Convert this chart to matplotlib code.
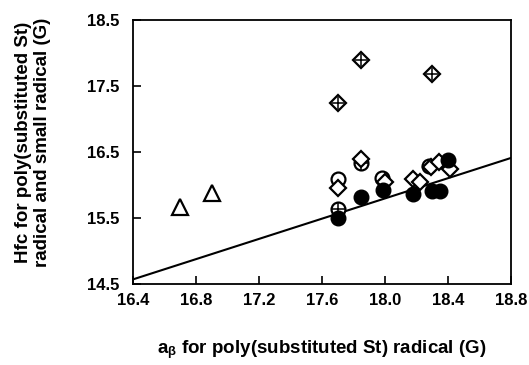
import matplotlib
matplotlib.use("Agg")
import matplotlib.pyplot as plt

# ---- data ----
tri_x = [16.70, 16.90]
tri_y = [15.67, 15.88]

cdiam_x = [17.70, 17.85, 18.30]
cdiam_y = [17.25, 17.89, 17.68]

ocirc_x = [17.70, 17.98, 18.28]
ocirc_y = [16.09, 16.11, 16.29]

diam_x = [17.70, 17.85, 18.00, 18.18, 18.22, 18.29, 18.34, 18.41]
diam_y = [15.95, 16.40, 16.05, 16.09, 16.04, 16.28, 16.35, 16.25]

ccirc_x = [17.70, 17.85]
ccirc_y = [15.63, 16.33]

fcirc_x = [17.70, 17.85, 17.99, 18.18, 18.30, 18.35, 18.40]
fcirc_y = [15.50, 15.82, 15.93, 15.87, 15.91, 15.91, 16.38]

line_x = [16.4, 18.8]
line_y = [14.57, 16.41]

xticks = [16.4, 16.8, 17.2, 17.6, 18.0, 18.4, 18.8]
yticks = [14.5, 15.5, 16.5, 17.5, 18.5]

plt.rcParams['font.family'] = ['Liberation Sans', 'DejaVu Sans']
plt.rcParams['mathtext.fontset'] = 'custom'
plt.rcParams['mathtext.rm'] = 'Liberation Serif'
plt.rcParams['mathtext.it'] = 'Liberation Serif:italic'

fig = plt.figure(figsize=(5.29, 3.65), dpi=100)
ax = fig.add_axes([133/529, 1-284/365, (511-133)/529, (284-20)/365])

ax.plot(line_x, line_y, color='black', lw=1.5, zorder=2)

ms = 10
mew = 1.6
ax.plot(tri_x, tri_y, linestyle='none', marker='^', ms=ms+1, mfc='white', mec='black', mew=mew, zorder=3)
ax.plot(cdiam_x, cdiam_y, linestyle='none', marker='D', ms=ms-2, mfc='white', mec='black', mew=mew, zorder=3)
ax.plot(cdiam_x, cdiam_y, linestyle='none', marker='+', ms=ms-1, mec='black', mew=1.1, zorder=3.1)
ax.plot(ocirc_x, ocirc_y, linestyle='none', marker='o', ms=ms, mfc='white', mec='black', mew=mew, zorder=3)
ax.plot(diam_x, diam_y, linestyle='none', marker='D', ms=ms-2, mfc='white', mec='black', mew=mew, zorder=3.5)
ax.plot(ccirc_x, ccirc_y, linestyle='none', marker='o', ms=ms, mfc='white', mec='black', mew=mew, zorder=3.2)
ax.plot(ccirc_x, ccirc_y, linestyle='none', marker='+', ms=ms, mec='black', mew=1.1, zorder=3.3)
ax.plot(fcirc_x, fcirc_y, linestyle='none', marker='o', ms=ms+0.5, mfc='black', mec='black', mew=1, zorder=4)

ax.set_xlim(16.4, 18.8)
ax.set_ylim(14.5, 18.5)
ax.set_xticks(xticks)
ax.set_yticks(yticks)
ax.set_xticklabels([f"{v:.1f}" for v in xticks], fontweight='bold', fontsize=12)
ax.set_yticklabels([f"{v:.1f}" for v in yticks], fontweight='bold', fontsize=12)
ax.tick_params(axis='x', direction='in', length=6, width=1.2, pad=6.5)
ax.tick_params(axis='y', direction='in', length=6, width=1.2, pad=10)
for s in ax.spines.values():
    s.set_linewidth(1.3)

fig.text(322/529, 1-350/365, r"a$_\mathregular{\beta}$ for poly(substituted St) radical (G)",
         ha='center', va='center', fontweight='bold', fontsize=13.5)
fig.text(33/529, 1-142/365, "Hfc for poly(substituted St)\nradical and small radical (G)",
         ha='center', va='center', rotation=90, fontweight='bold', fontsize=13.5,
         linespacing=1.1)

fig.savefig("out.png", dpi=100)
